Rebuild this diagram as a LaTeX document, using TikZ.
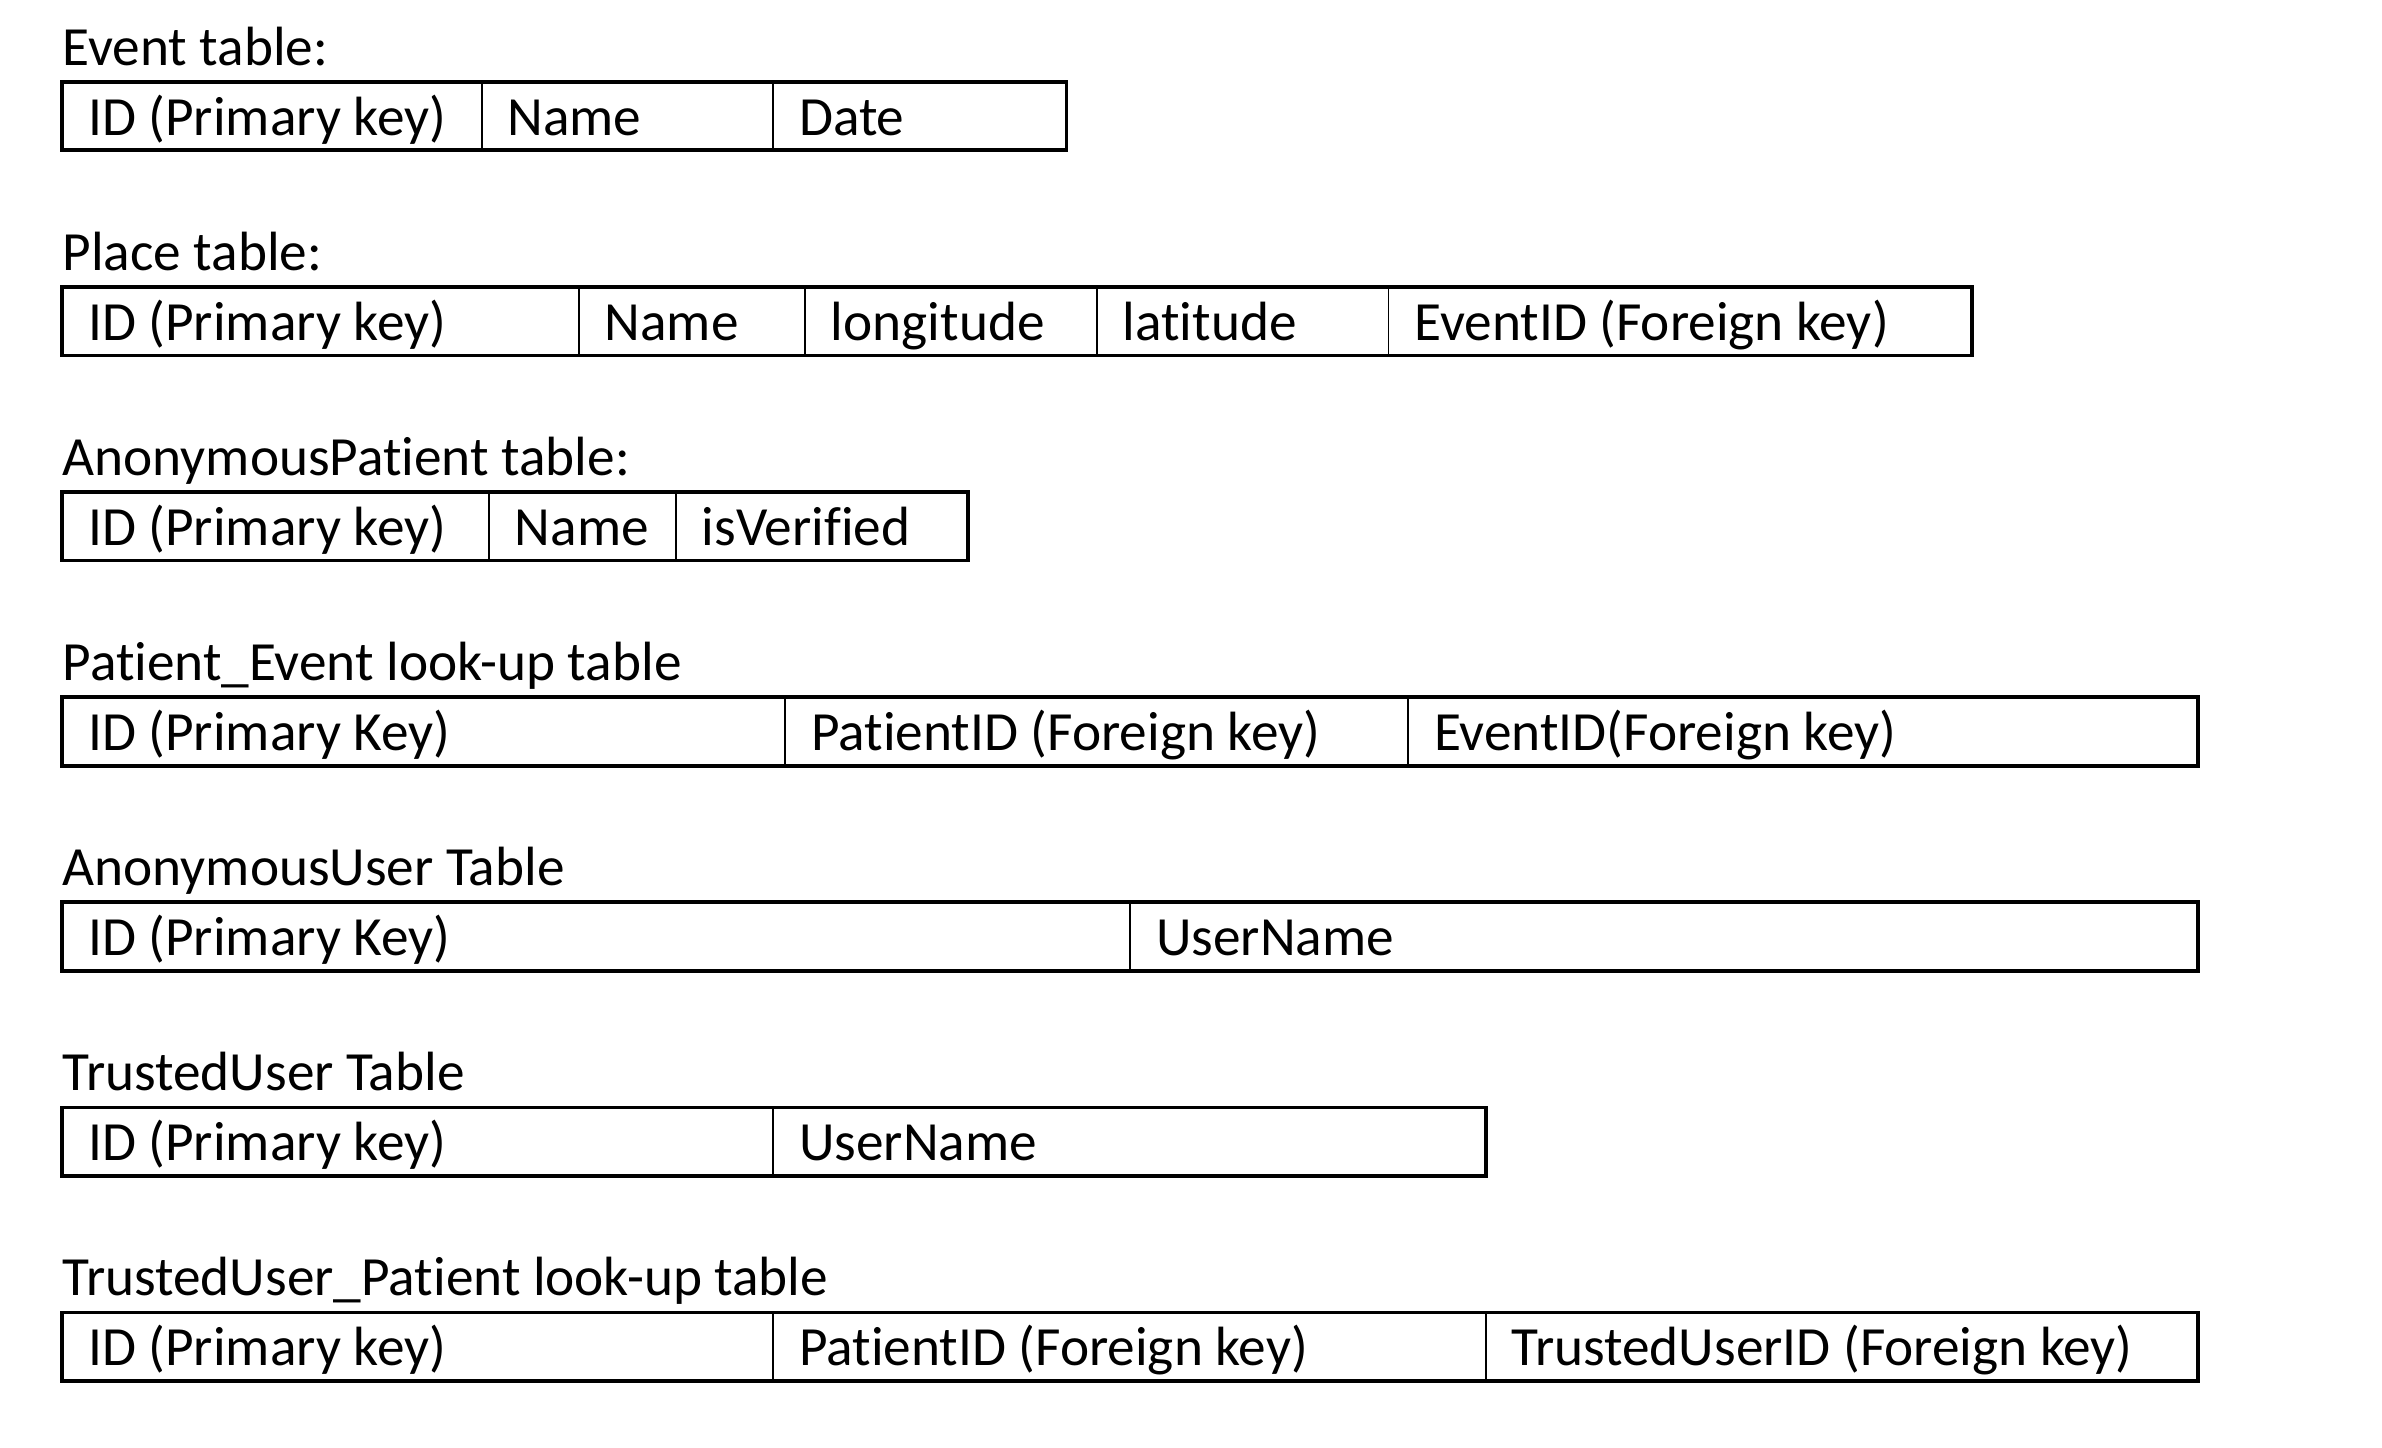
\documentclass[tikz,border=0pt]{standalone}
\usepackage{fontspec}
\setmainfont{Carlito}[Ligatures=CommonOff]
\newcommand{\us}{\symbol{"5F}}
\begin{document}
\begin{tikzpicture}[x=1pt,y=-1pt,
  font=\fontsize{36.4}{40}\selectfont,
  cell/.style={draw, line width=1.3pt, outer sep=0pt, anchor=north west, minimum height=45pt,
    inner xsep=17pt, inner ysep=0pt, align=flush left, text height=30pt, text depth=5pt},
  lbl/.style={anchor=base west, inner sep=0pt},
  outer/.style={line width=2.5pt}]
\useasboundingbox[fill=white] (0,0) rectangle (1568,953);
% Event table
\node[lbl] (lev) at (41,43) {Event table:};
\node[cell, text width=242pt] (e1) at (41,54) {ID (Primary key)};
\node[cell, text width=158pt] (e2) at (e1.north east) {Name};
\node[cell, text width=159pt] (e3) at (e2.north east) {Date};
\draw[outer] (e1.north west) rectangle (e3.south east);
% Place table
\node[lbl] (lpl) at (41,178) {Place table:};
\node[cell, text width=306pt] (p1) at (41,189) {ID (Primary key)};
\node[cell, text width=115pt] (p2) at (p1.north east) {Name};
\node[cell, text width=158pt] (p3) at (p2.north east) {longitude};
\node[cell, text width=158pt] (p4) at (p3.north east) {latitude};
\node[cell, text width=350pt] (p5) at (p4.north east) {EventID (Foreign key)};
\draw[outer] (p1.north west) rectangle (p5.south east);
% AnonymousPatient table
\node[lbl] (lap) at (41,313) {AnonymousPatient table:};
\node[cell, text width=247pt] (a1) at (41,324) {ID (Primary key)};
\node[cell, text width=89pt] (a2) at (a1.north east) {Name};
\node[cell, text width=158pt] (a3) at (a2.north east) {isVerified};
\draw[outer] (a1.north west) rectangle (a3.south east);
% Patient_Event look-up table
\node[lbl] (lpe) at (41,448) {Patient\us Event look-up table};
\node[cell, text width=442pt] (q1) at (41,459) {ID (Primary Key)};
\node[cell, text width=376pt] (q2) at (q1.north east) {PatientID (Foreign key)};
\node[cell, text width=486pt] (q3) at (q2.north east) {EventID(Foreign key)};
\draw[outer] (q1.north west) rectangle (q3.south east);
% AnonymousUser Table
\node[lbl] (lau) at (41,583) {AnonymousUser Table};
\node[cell, text width=669pt] (u1) at (41,594) {ID (Primary Key)};
\node[cell, text width=669pt] (u2) at (u1.north east) {UserName};
\draw[outer] (u1.north west) rectangle (u2.south east);
% TrustedUser Table
\node[lbl] (ltu) at (41,718) {TrustedUser Table};
\node[cell, text width=434pt] (t1) at (41,729) {ID (Primary key)};
\node[cell, text width=435pt] (t2) at (t1.north east) {UserName};
\draw[outer] (t1.north west) rectangle (t2.south east);
% TrustedUser_Patient look-up table
\node[lbl] (ltp) at (41,853) {TrustedUser\us Patient look-up table};
\node[cell, text width=434pt] (r1) at (41,864) {ID (Primary key)};
\node[cell, text width=435pt] (r2) at (r1.north east) {PatientID (Foreign key)};
\node[cell, text width=435pt] (r3) at (r2.north east) {TrustedUserID (Foreign key)};
\draw[outer] (r1.north west) rectangle (r3.south east);
\end{tikzpicture}
\end{document}
